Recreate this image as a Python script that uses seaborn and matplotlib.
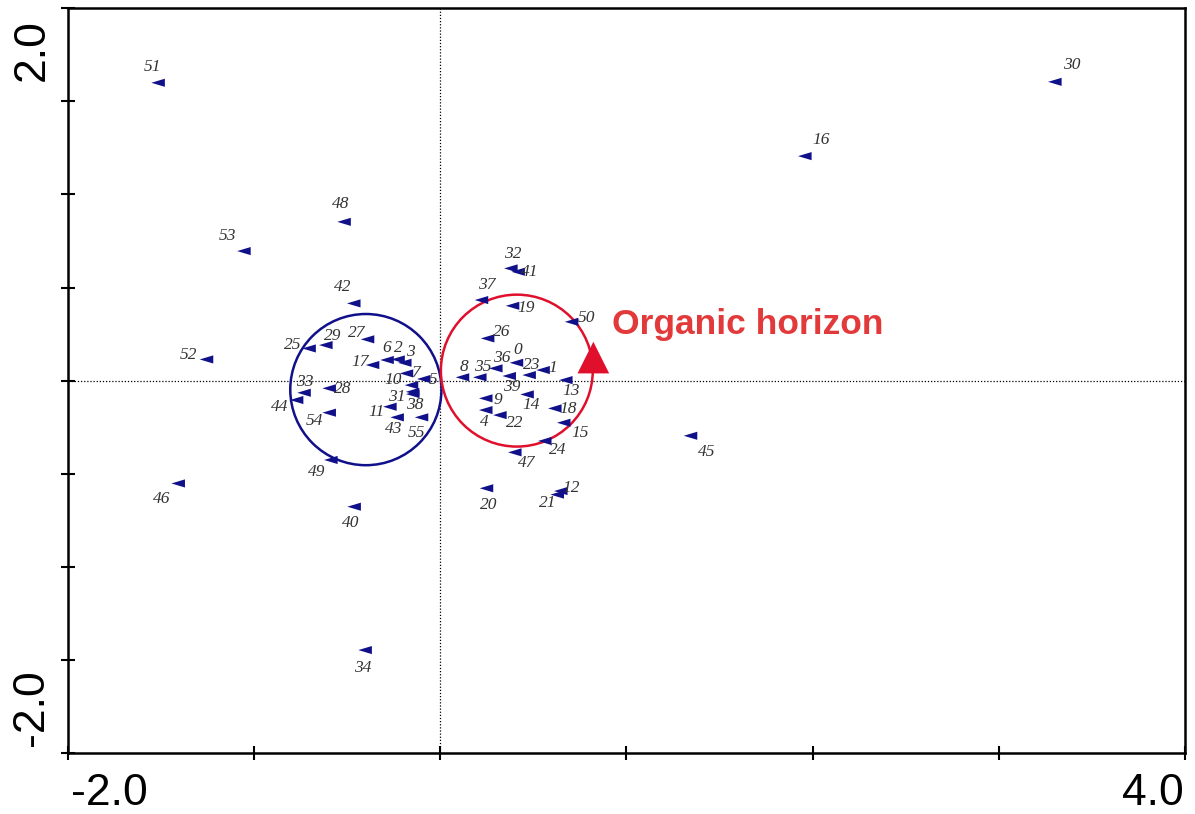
import numpy as np
import pandas as pd
import matplotlib
matplotlib.use("Agg")
import matplotlib.pyplot as plt
from matplotlib.patches import Circle
from matplotlib.path import Path
import seaborn as sns

# ---- sample scores on the first two ordination axes ----
sample_id = list(range(56))
axis1 = [0.409, 0.552, -0.227, -0.191, 0.244, -0.089, -0.286, -0.182, 0.119, 0.244,
         -0.155, -0.271, 0.647, 0.674, 0.466, 0.663, 1.958, -0.364, 0.615, 0.388,
         0.248, 0.628, 0.320, 0.477, 0.561, -0.705, 0.254, -0.391, -0.597, -0.615,
         3.301, -0.149, 0.379, -0.732, -0.404, 0.212, 0.298, 0.221, -0.148, 0.370,
         -0.463, 0.418, -0.465, -0.232, -0.772, 1.344, -1.408, 0.400, -0.517, -0.588,
         0.705, -1.516, -1.256, -1.055, -0.597, -0.101]
axis2 = [0.096, 0.057, 0.114, 0.096, -0.158, 0.009, 0.111, 0.039, 0.018, -0.095,
         -0.024, -0.140, -0.593, 0.003, -0.074, -0.226, 1.206, 0.084, -0.149, 0.402,
         -0.578, -0.612, -0.185, 0.030, -0.324, 0.173, 0.227, 0.222, -0.041, 0.191,
         1.605, -0.060, 0.603, -0.065, -1.447, 0.018, 0.066, 0.433, -0.072, 0.025,
         -0.677, 0.585, 0.415, -0.197, -0.104, -0.296, -0.552, -0.385, 0.853, -0.426,
         0.316, 1.600, 0.114, 0.696, -0.172, -0.197]

# group envelopes (centre x, centre y, radius)
group_circles = [(-0.400, -0.048, 0.406), (0.411, 0.054, 0.408)]
# nominal environmental variable centroid
env_name = "Organic horizon"
env_x, env_y = 0.822, 0.124

# label placement relative to each marker, in pixels (dx right, dy up)
label_offset = {
    0: (1.6, 12.7), 1: (10, 1.7), 2: (0.7, 11.3), 3: (5.7, 11), 4: (-1, -11.7),
    5: (9, -1), 6: (0, 12), 7: (10, 0), 8: (1.3, 10.6), 9: (12.3, -1.7),
    10: (-18.7, 5.0), 11: (-13.3, -5), 12: (10.7, 2.7), 13: (5, -11), 14: (4.4, -10.7),
    15: (16, -10), 16: (16.7, 16), 17: (-12.7, 3.3), 18: (13.3, -1), 19: (13.3, -2.6),
    20: (2.6, -16.7), 21: (-9.5, -8.5), 22: (15, -8.3), 23: (2.4, 10), 24: (13.3, -9),
    25: (-16.3, 3.3), 26: (14, 6.6), 27: (-10.7, 6.3), 28: (13.4, -1), 29: (7, 9),
    30: (16.7, 16.7), 31: (-16, -5.0), 32: (2.3, 14.3), 33: (0.7, 11), 34: (-2.6, -18.3),
    35: (2.7, 10), 36: (5.7, 10), 37: (5, 15), 38: (2, -11), 39: (2.4, -10.7),
    40: (-3.6, -16), 41: (11.7, 0), 42: (-11.3, 16.6), 43: (-3.3, -11.7), 44: (-16.7, -7),
    45: (16, -16), 46: (-16.6, -16), 47: (11.7, -11), 48: (-3.6, 17.7), 49: (-14.3, -11.7),
    50: (15, 3.4), 51: (-5.3, 16), 52: (-18.4, 4.3), 53: (-16.7, 15), 54: (-14.3, -8.3),
    55: (-5, -15.4),
}

df = pd.DataFrame({"id": sample_id, "ax1": axis1, "ax2": axis2})

sns.set_style("white")
plt.rcParams["font.family"] = ["Liberation Sans", "DejaVu Sans"]

NAVY = "#10108a"
RED = "#e0102c"

fig = plt.figure(figsize=(11.95, 8.14), dpi=100)
ax = fig.add_axes([0.0569, 0.0749, 0.9347, 0.9149])

# dotted zero lines
ax.axhline(0, color="black", lw=0.9, ls=(0, (1, 1.5)), zorder=1)
ax.axvline(0, color="black", lw=0.9, ls=(0, (1, 1.5)), zorder=1)

# group envelopes
for (cx, cy, r), col in zip(group_circles, [NAVY, RED]):
    ax.add_patch(Circle((cx, cy), r, fill=False, ec=col, lw=1.8, zorder=2))

# arrowhead marker for the samples
head = Path([(-1.0, 0.0), (1.0, 0.6), (1.0, -0.6), (-1.0, 0.0)],
            [Path.MOVETO, Path.LINETO, Path.LINETO, Path.CLOSEPOLY])
sns.scatterplot(data=df, x="ax1", y="ax2", marker=head, s=95, color=NAVY,
                edgecolor="none", linewidth=0, ax=ax, zorder=4, legend=False)

for i, x, y in zip(df["id"], df["ax1"], df["ax2"]):
    dx, dy = label_offset[i]
    ax.annotate(str(i), (x, y), xytext=(dx, dy), textcoords="offset pixels",
                ha="center", va="center", fontsize=12.5, style="italic",
                family=["Liberation Serif", "DejaVu Serif"], color="#333333", zorder=5)

# environmental centroid
ax.scatter([env_x], [env_y], marker="^", s=520, color=RED, edgecolor="none", zorder=6)
ax.text(env_x + 0.1, env_y + 0.126, env_name, color="#e23a3a", fontsize=25.5,
        fontweight="bold", ha="left", va="baseline", zorder=6)

ax.set_xlim(-2.0, 4.0)
ax.set_ylim(-2.0, 2.0)
ax.set_xlabel("")
ax.set_ylabel("")

ax.set_xticks(np.arange(-2, 4.01, 1.0))
ax.set_yticks(np.arange(-2, 2.01, 0.5))
ax.set_xticklabels([])
ax.set_yticklabels([])
ax.tick_params(axis="both", direction="inout", length=10, width=1.5, color="black",
               bottom=True, left=True, top=False, right=False)

for s in ax.spines.values():
    s.set_visible(True)
    s.set_color("black")
    s.set_linewidth(1.8)

# end labels of the axes
lab = dict(fontsize=32, color="black")
ax.text(0.003, -0.027, "-2.0", transform=ax.transAxes, ha="left", va="top", **lab)
ax.text(0.999, -0.027, "4.0", transform=ax.transAxes, ha="right", va="top", **lab)
ax.text(-0.014, 0.985, "2.0", transform=ax.transAxes, ha="right", va="top",
        rotation=90, **lab)
ax.text(-0.014, 0.009, "-2.0", transform=ax.transAxes, ha="right", va="bottom",
        rotation=90, **lab)

fig.savefig("out.png", dpi=100, facecolor="white")
